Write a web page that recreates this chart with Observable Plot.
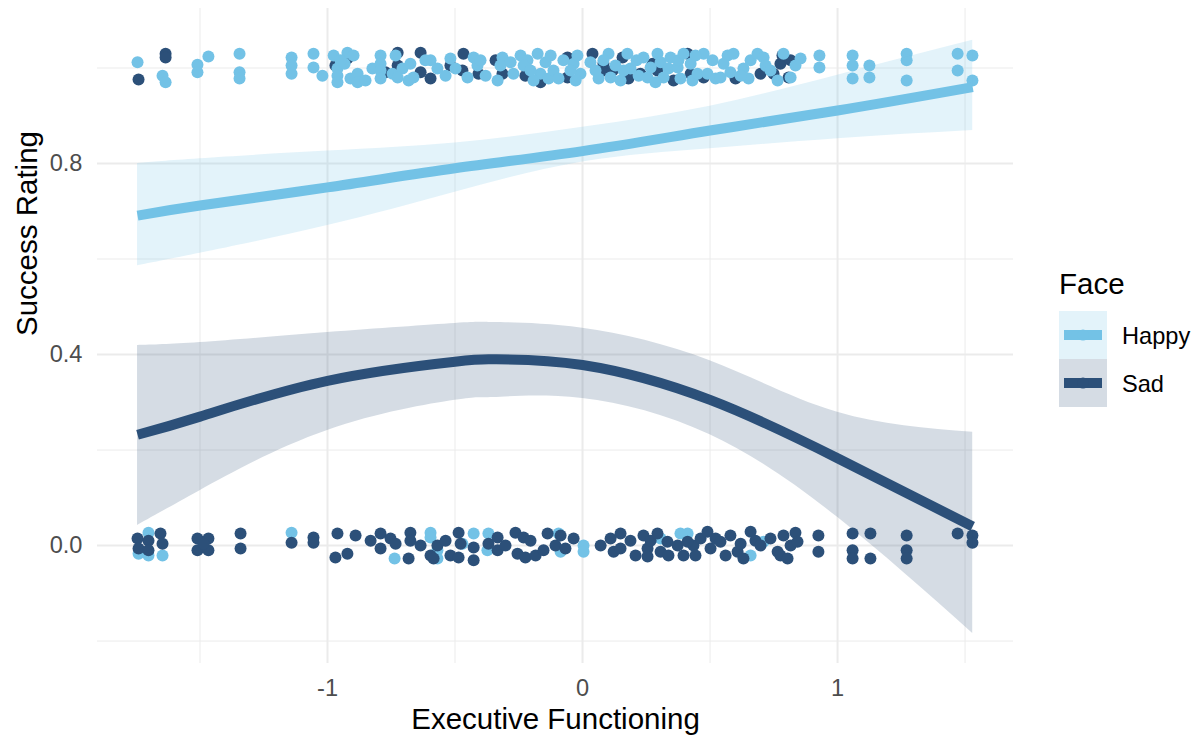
<!DOCTYPE html>
<html><head><meta charset="utf-8">
<script src="https://cdn.jsdelivr.net/npm/d3@7"></script>
<script src="https://cdn.jsdelivr.net/npm/@observablehq/plot@0.6"></script>
<style>
body{margin:0;background:#fff;}
#wrap{position:relative;width:1196px;height:736px;font-family:"Liberation Sans",Arial,sans-serif;}
#legend{position:absolute;left:1040px;top:260px;}
</style></head><body><div id="wrap"></div>
<script>
const faces = ["Happy", "Sad"];
const faceColors = ["#73c2e6", "#2c5079"];
const xTitle = "Executive Functioning";
const yTitle = "Success Rating";
const legendTitle = "Face";
const xMajor = [-1, 0, 1];
const xMinor = [-1.5, -0.5, 0.5, 1.5];
const yMajor = [0, 0.4, 0.8];
const yMinor = [-0.2, 0.2, 0.6, 1.0];

// jittered observations [executive functioning, success]
const happyTop = [[-1.745,1.012],[-1.647,0.984],[-1.635,0.970],[-1.510,1.007],[-1.510,0.991],[-1.467,1.024],[-1.345,1.030],[-1.345,0.991],[-1.345,0.978],[-1.141,1.022],[-1.141,1.005],[-1.141,0.988],[-1.055,1.030],[-1.055,1.001],
[-0.976,1.026],[-0.961,0.999],[-0.961,0.984],[-0.961,0.970],[-0.922,1.032],[-0.898,1.026],[-0.910,0.978],[-0.882,0.988],[-0.882,0.970],[-0.933,1.009],
[-1.020,0.984],[-0.949,1.016],[-0.851,0.974],[-0.824,0.999],
[-0.792,1.026],[-0.792,1.009],[-0.792,0.995],[-0.792,0.978],
[-0.733,1.026],[-0.745,0.988],[-0.706,0.999],[-0.725,0.980],[-0.675,1.009],[-0.663,0.980],[-0.682,0.974],
[-0.569,0.999],[-0.596,1.016],[-0.616,1.016],[-0.537,0.984],[-0.518,1.020],[-0.498,0.999],
[-0.427,1.022],[-0.451,0.980],[-0.412,1.005],[-0.400,1.016],[-0.380,0.984],
[-0.333,0.974],[-0.314,1.022],[-0.322,1.005],[-0.282,1.012],
[-0.271,0.988],[-0.243,1.026],[-0.216,1.016],[-0.176,1.030],[-0.165,0.988],[-0.192,0.974],[-0.231,1.005],[-0.145,1.012],[-0.204,0.995],
[-0.125,1.026],[-0.133,0.978],[-0.114,0.995],[-0.075,1.016],[-0.035,1.009],[-0.094,0.978],[-0.020,1.026],[-0.008,0.988],[-0.047,0.995],[-0.027,0.974],
[0.031,1.012],[0.063,0.978],[0.102,1.030],[0.082,1.016],[0.110,0.980],[0.176,1.030],[0.149,0.974],[0.051,0.995],[0.129,1.005],[0.188,0.999],[0.161,0.995],
[0.212,1.016],[0.220,0.984],[0.239,1.022],[0.267,1.001],[0.294,1.030],[0.318,0.980],[0.255,0.980],[0.306,1.012],[0.286,0.970],[0.337,0.999],
[0.345,1.022],[0.373,1.001],[0.376,1.016],[0.396,1.030],[0.424,1.009],[0.431,0.974],[0.451,0.988],[0.475,1.030],[0.490,0.988],[0.384,0.978],[0.443,1.026],
[0.510,1.016],[0.522,0.978],[0.569,1.026],[0.553,1.009],[0.592,1.030],[0.631,0.999],[0.659,1.016],[0.651,0.978],[0.686,1.030],[0.541,0.980],[0.580,0.991],[0.620,0.984],
[0.710,1.022],[0.718,1.005],[0.737,0.995],[0.765,0.974],[0.788,1.030],[0.816,0.980],[0.835,1.005],[0.855,1.020],
[0.929,1.026],[0.929,1.001],[1.059,1.026],[1.059,1.005],[1.059,0.978],[1.125,1.005],[1.125,0.980],[1.271,1.030],[1.271,1.016],[1.271,0.974],[1.471,1.030],[1.471,0.995],[1.529,1.026],[1.529,0.974]];

const sadTop = [[-1.741,0.976],[-1.635,1.030],[-1.635,1.022],
[-0.922,1.020],[-0.969,1.005],[-0.882,0.980],[-0.773,0.991],
[-0.725,1.032],[-0.725,1.005],
[-0.635,1.032],[-0.635,0.991],[-0.596,0.978],[-0.518,1.005],
[-0.467,1.030],[-0.471,0.995],[-0.408,0.988],
[-0.341,1.016],[-0.314,0.988],[-0.224,0.984],
[-0.165,0.970],
[-0.059,1.022],[-0.059,0.980],
[0.039,1.030],[0.082,1.009],[0.157,1.022],[0.082,0.995],[0.180,0.978],[0.118,0.995],[0.227,0.988],
[0.294,0.995],[0.275,1.009],
[0.412,1.030],[0.357,0.974],[0.424,0.988],[0.475,0.980],
[0.600,0.978],[0.698,0.988],[0.749,0.988],[0.776,1.009],[0.816,1.016],[0.784,1.026],[0.808,0.980]];

const happyBottom = [[-1.702,0.027],[-1.741,-0.017],[-1.702,-0.021],[-1.647,-0.021],
[-1.141,0.027],
[-0.737,-0.027],
[-0.596,0.027],[-0.596,0.017],[-0.569,-0.010],[-0.569,-0.027],
[-0.471,0.004],[-0.427,0.025],[-0.369,0.025],[-0.373,-0.010],
[0.004,0.000],[0.004,-0.013],
[-0.094,0.025],[-0.086,-0.013],
[0.306,0.015],
[0.384,0.025],[0.412,0.025],
[0.659,-0.021],
[0.710,0.008]];

const sadBottom = [[-1.745,0.015],[-1.741,-0.006],[-1.702,0.010],[-1.655,0.025],[-1.647,0.004],[-1.702,-0.010],
[-1.510,0.015],[-1.510,-0.010],[-1.467,0.015],[-1.467,-0.010],[-1.486,0.004],
[-1.341,0.025],[-1.341,-0.006],
[-1.141,0.006],
[-1.055,0.017],[-1.055,0.006],
[-0.961,0.025],[-0.969,-0.025],[-0.922,-0.017],[-0.890,0.021],[-0.831,0.010],
[-0.792,0.025],[-0.792,-0.006],[-0.753,0.015],[-0.733,0.004],[-0.675,0.027],[-0.675,0.010],[-0.682,-0.027],[-0.635,0.000],
[-0.596,-0.021],[-0.569,0.000],[-0.584,-0.027],[-0.537,0.010],[-0.518,-0.021],
[-0.486,0.027],[-0.478,0.004],[-0.486,-0.025],[-0.427,-0.004],[-0.427,-0.031],[-0.369,0.004],[-0.333,0.017],[-0.333,-0.010],[-0.302,0.000],
[-0.263,0.027],[-0.231,0.017],[-0.255,-0.017],[-0.224,-0.025],[-0.204,0.010],[-0.184,-0.021],
[-0.137,0.025],[-0.153,-0.010],[-0.106,0.000],[-0.067,-0.006],[-0.086,0.021],
[-0.035,0.015],[0.071,0.000],
[0.110,0.015],[0.122,-0.013],[0.149,0.025],[0.149,-0.006],[0.188,0.010],[0.208,-0.021],
[0.239,0.021],[0.255,-0.006],[0.255,-0.023],[0.267,0.010],[0.294,0.025],[0.306,-0.013],[0.333,0.008],[0.337,-0.021],
[0.373,0.000],[0.396,-0.021],[0.435,0.000],[0.443,-0.021],[0.463,0.015],[0.412,0.008],
[0.490,0.029],[0.502,-0.006],[0.522,0.015],[0.561,-0.021],
[0.541,0.008],[0.580,0.021],[0.608,-0.013],[0.631,-0.027],[0.659,0.029],[0.620,0.004],[0.678,0.010],
[0.698,0.000],[0.737,0.015],[0.765,-0.013],[0.776,-0.021],[0.788,0.021],[0.804,-0.027],[0.816,0.000],[0.835,0.027],[0.843,0.008],
[0.925,0.021],[0.925,-0.013],
[1.059,0.025],[1.059,-0.010],[1.059,-0.027],[1.129,0.025],[1.129,-0.027],
[1.271,0.021],[1.271,-0.010],[1.271,-0.027],
[1.471,0.025],[1.529,0.021],[1.529,0.006]];

// smoothed fits with confidence bands
const happyFitX  = [-1.745, -1.5, -1, -0.5, 0, 0.5, 1, 1.53];
const happyFit   = [0.691, 0.712, 0.750, 0.790, 0.826, 0.869, 0.911, 0.960];
const happyUpper = [0.800, 0.810, 0.826, 0.843, 0.876, 0.920, 0.985, 1.058];
const happyLower = [0.586, 0.612, 0.670, 0.740, 0.803, 0.831, 0.852, 0.869];

const sadFitX  = [-1.745, -1.5, -1, -0.5, -0.35, 0, 0.5, 1, 1.53];
const sadFit   = [0.232, 0.270, 0.345, 0.385, 0.390, 0.378, 0.305, 0.183, 0.040];
const sadUpper = [0.419, 0.425, 0.446, 0.465, 0.467, 0.455, 0.387, 0.279, 0.237];
const sadLower = [0.042, 0.115, 0.241, 0.304, 0.310, 0.308, 0.232, 0.059, -0.184];

const toRows = (xs, fit, lo, hi) => xs.map((x, i) => ({x, y: fit[i], lo: lo[i], hi: hi[i]}));
const happyRows = toRows(happyFitX, happyFit, happyLower, happyUpper);
const sadRows = toRows(sadFitX, sadFit, sadLower, sadUpper);

const [cHappy, cSad] = faceColors;
const grid = "#ebebeb";
const px = d => d[0], py = d => d[1];
const R = 6;

const chart = Plot.plot({
  width: 1196, height: 736,
  marginLeft: 97, marginRight: 183, marginTop: 8, marginBottom: 73,
  style: {fontFamily: '"Liberation Sans", Arial, sans-serif', fontSize: "23.6px", color: "#4d4d4d", background: "white"},
  x: {domain: [-1.902, 1.690], label: null},
  y: {domain: [-0.247, 1.1246], label: null},
  marks: [
    Plot.ruleX(xMinor, {stroke: grid, strokeWidth: 1}),
    Plot.ruleY(yMinor, {stroke: grid, strokeWidth: 1}),
    Plot.ruleX(xMajor, {stroke: grid, strokeWidth: 2}),
    Plot.ruleY(yMajor, {stroke: grid, strokeWidth: 2}),
    Plot.axisX({ticks: xMajor, tickFormat: d => String(d), tickSize: 0, tickPadding: 16, fontSize: 23.6}),
    Plot.axisY({ticks: yMajor, tickFormat: d => d.toFixed(1), tickSize: 0, tickPadding: 15, fontSize: 23.6}),
    Plot.dot(happyBottom, {x: px, y: py, r: R, fill: cHappy}),
    Plot.dot(sadTop, {x: px, y: py, r: R, fill: cSad}),
    Plot.dot(happyTop, {x: px, y: py, r: R, fill: cHappy}),
    Plot.dot(sadBottom, {x: px, y: py, r: R, fill: cSad}),
    Plot.areaY(happyRows, {x: "x", y1: "lo", y2: "hi", fill: cHappy, fillOpacity: 0.2, curve: "natural"}),
    Plot.lineY(happyRows, {x: "x", y: "y", stroke: cHappy, strokeWidth: 10, strokeLinecap: "butt", curve: "natural"}),
    Plot.areaY(sadRows, {x: "x", y1: "lo", y2: "hi", fill: cSad, fillOpacity: 0.2, curve: "natural"}),
    Plot.lineY(sadRows, {x: "x", y: "y", stroke: cSad, strokeWidth: 10, strokeLinecap: "butt", curve: "natural"}),
    Plot.text([xTitle], {frameAnchor: "bottom", dy: 56, lineAnchor: "middle", fontSize: 29.5, fill: "black"}),
    Plot.text([yTitle], {frameAnchor: "left", dx: -70, rotate: -90, lineAnchor: "middle", fontSize: 29.5, fill: "black"})
  ]
});
const wrap = document.getElementById("wrap");
wrap.appendChild(chart);

// legend
const leg = d3.select(wrap).append("svg").attr("id", "legend").attr("width", 156).attr("height", 160)
  .style("font-family", '"Liberation Sans", Arial, sans-serif');
leg.append("text").attr("x", 19).attr("y", 34).attr("font-size", 29.5).attr("fill", "black").text(legendTitle);
faces.forEach((f, i) => {
  const y0 = 51 + i * 48;
  const g = leg.append("g");
  g.append("rect").attr("x", 19).attr("y", y0).attr("width", 48).attr("height", 48)
    .attr("fill", faceColors[i]).attr("fill-opacity", 0.2);
  g.append("line").attr("x1", 24).attr("x2", 62).attr("y1", y0 + 24).attr("y2", y0 + 24)
    .attr("stroke", faceColors[i]).attr("stroke-width", 10);
  g.append("circle").attr("cx", 43).attr("cy", y0 + 24).attr("r", 5.5).attr("fill", faceColors[i]);
  g.append("text").attr("x", 82).attr("y", y0 + 25).attr("dominant-baseline", "central")
    .attr("font-size", 23.6).attr("fill", "black").text(f);
});
</script>
</body></html>
